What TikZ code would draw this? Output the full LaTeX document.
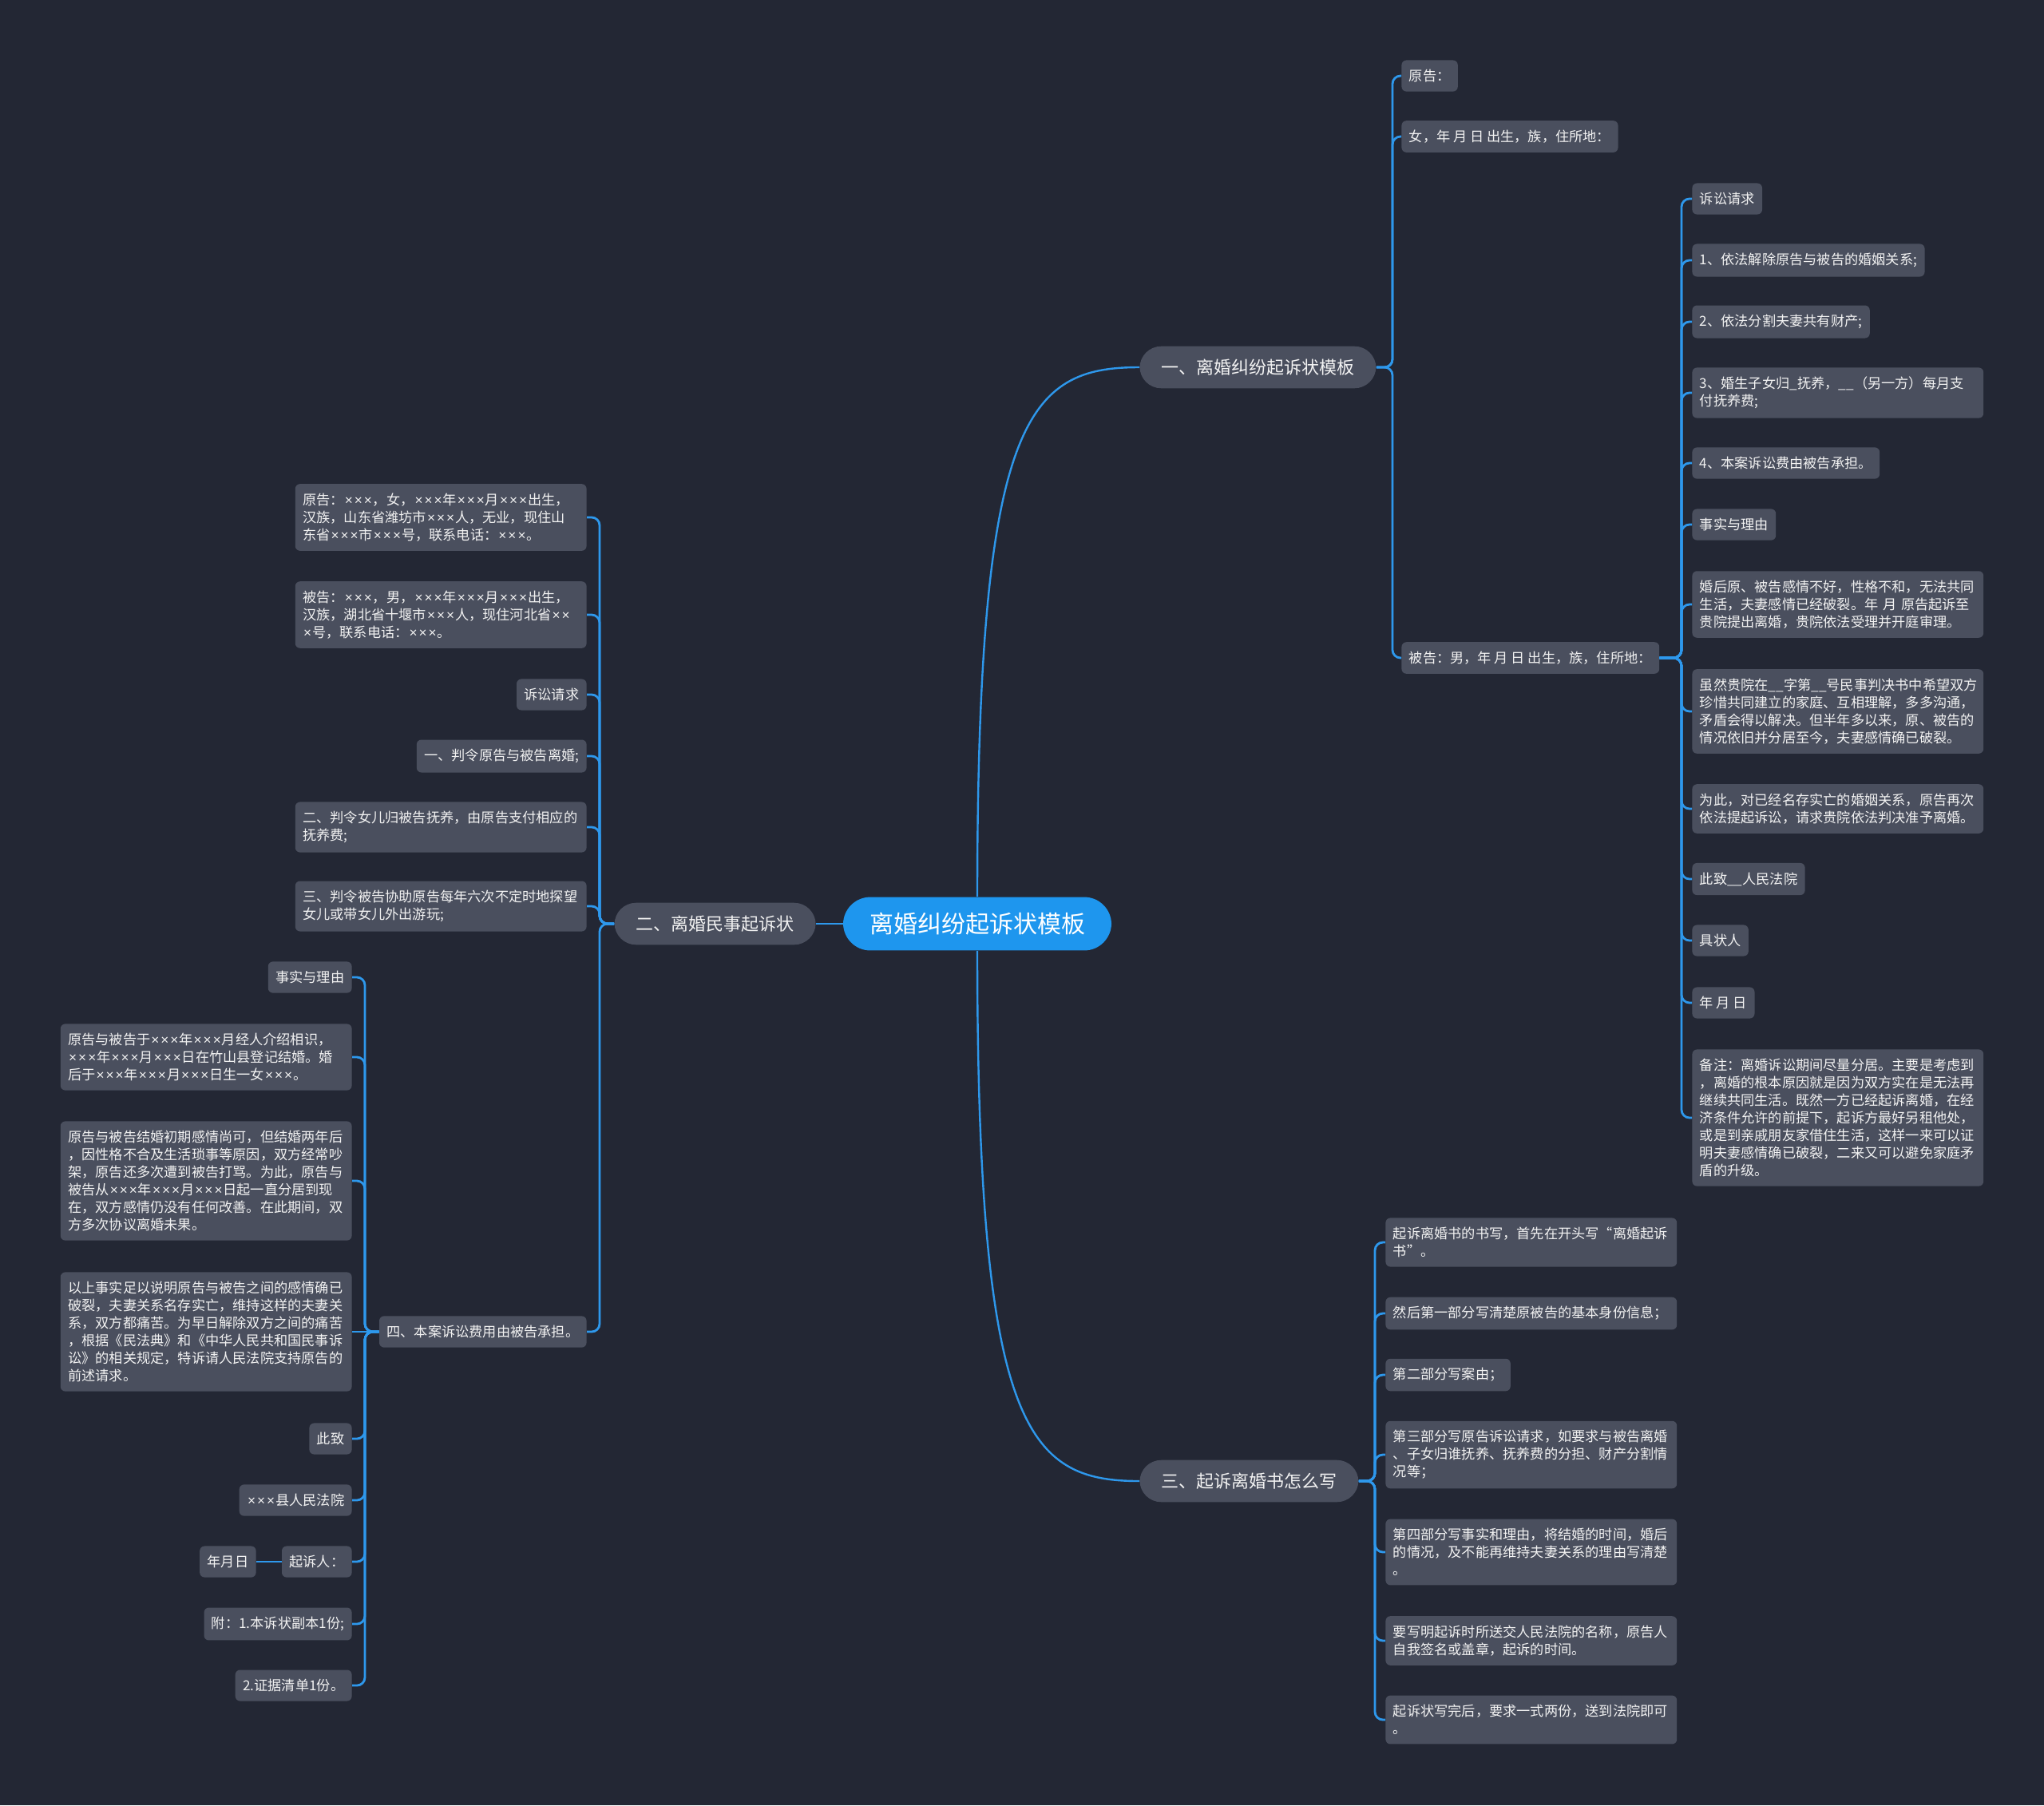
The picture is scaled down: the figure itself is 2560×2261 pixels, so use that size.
\documentclass[tikz,border=0pt]{standalone}
\usepackage{fontspec}
\setmainfont{Noto Sans CJK SC}
\newfontfamily\latinfont{Liberation Sans}
\usepackage{tikz}
\usetikzlibrary{arrows.meta}
\usepackage{xcolor}

\definecolor{bgcol}{HTML}{232734}
\definecolor{boxgray}{HTML}{4A4F5E}
\definecolor{linkblue}{HTML}{2E98EC}
\definecolor{rootblue}{HTML}{1E96EE}
\definecolor{txtcol}{HTML}{F2F2F2}

\newcommand{\leaffont}{\fontsize{8.6pt}{11pt}\selectfont}
\newcommand{\topicfont}{\fontsize{11pt}{13pt}\selectfont}
\newcommand{\rootfont}{\fontsize{15pt}{17pt}\selectfont}
\newcommand{\xx}{\makebox[0.7em]{\latinfont ×}}
\newcommand{\tri}{\xx\xx\xx}

\begin{document}
\begin{tikzpicture}[x = 0.5pt, y = -0.5pt,
    leaf/.style = {fill = boxgray, text = txtcol, rounded corners = 3pt, inner xsep = 4.7pt, inner ysep = 5.8pt, align = left, font = \leaffont},
    wide/.style = {leaf, text width = 173pt},
    topic/.style = {fill = boxgray, text = txtcol, rounded corners = 13.5pt, inner xsep = 13.5pt, inner ysep = 8pt, font = \topicfont},
    root/.style = {fill = rootblue, text = white, rounded corners = 17pt, inner xsep = 16.5pt, inner ysep = 9.7pt, font = \rootfont},
    link/.style = {draw = linkblue, line width = 1.4pt, rounded corners = 5pt},
    trunk/.style = {draw = linkblue, line width = 1.2pt}]

    \useasboundingbox (0,0) rectangle (2560,2261);
    \fill[bgcol] (0,0) rectangle (2560,2261);

    % centre and main topics
    \node[root] (root) at (1224,1157) {离婚纠纷起诉状模板};
    \node[topic, anchor = west] (n1) at (1427,460) {一、离婚纠纷起诉状模板};
    \node[topic, anchor = east] (n2) at (1022,1157) {二、离婚民事起诉状};
    \node[topic, anchor = west] (n3) at (1427,1855) {三、起诉离婚书怎么写};

    \draw[trunk] (root.north) .. controls +(0,-600) and +(-140,0) .. (n1.west);
    \draw[trunk] (root.south) .. controls +(0,600) and +(-140,0) .. (n3.west);
    \draw[trunk] (root.west) -- (n2.east);

    % spines
    \coordinate (sA) at (1744,0);
    \coordinate (sB) at (2106,0);
    \coordinate (sC) at (1722,0);
    \coordinate (sD) at (751,0);
    \coordinate (sE) at (457,0);

    % branch one
    \node[leaf, anchor = west] (a1) at (1755,95) {原告：};
    \node[leaf, anchor = west] (a2) at (1755,171) {女，年 月 日 出生，族，住所地：};
    \node[leaf, anchor = west] (a3) at (1755,824) {被告：男，年 月 日 出生，族，住所地：};

    \node[leaf, anchor = west] (b1) at (2119,249) {诉讼请求};
    \node[leaf, anchor = west] (b2) at (2119,326) {1、依法解除原告与被告的婚姻关系;};
    \node[leaf, anchor = west] (b3) at (2119,403) {2、依法分割夫妻共有财产;};
    \node[wide, anchor = west] (b4) at (2119,492) {3、婚生子女归\_抚养，\_\_（另一方）每月支\\付抚养费;};
    \node[leaf, anchor = west] (b5) at (2119,580) {4、本案诉讼费由被告承担。};
    \node[leaf, anchor = west] (b6) at (2119,657) {事实与理由};
    \node[wide, anchor = west] (b7) at (2119,757) {婚后原、被告感情不好，性格不和，无法共同\\生活，夫妻感情已经破裂。年 月 原告起诉至\\贵院提出离婚，贵院依法受理并开庭审理。};
    \node[wide, anchor = west] (b8) at (2119,891) {虽然贵院在\_\_字第\_\_号民事判决书中希望双方\\珍惜共同建立的家庭、互相理解，多多沟通，\\矛盾会得以解决。但半年多以来，原、被告的\\情况依旧并分居至今，夫妻感情确已破裂。};
    \node[wide, anchor = west] (b9) at (2119,1013) {为此，对已经名存实亡的婚姻关系，原告再次\\依法提起诉讼，请求贵院依法判决准予离婚。};
    \node[leaf, anchor = west] (b10) at (2119,1101) {此致\_\_人民法院};
    \node[leaf, anchor = west] (b11) at (2119,1178) {具状人};
    \node[leaf, anchor = west] (b12) at (2119,1256) {年 月 日};
    \node[wide, anchor = west] (b13) at (2119,1400) {备注：离婚诉讼期间尽量分居。主要是考虑到\\，离婚的根本原因就是因为双方实在是无法再\\继续共同生活。既然一方已经起诉离婚，在经\\济条件允许的前提下，起诉方最好另租他处，\\或是到亲戚朋友家借住生活，这样一来可以证\\明夫妻感情确已破裂，二来又可以避免家庭矛\\盾的升级。};

    \foreach \c in {a1,a2,a3}
        \draw[link] (n1.east) -- (n1.east -| sA) -- (\c.west -| sA) -- (\c.west);
    \foreach \i in {1,...,13}
        \draw[link] (a3.east) -- (a3.east -| sB) -- (b\i.west -| sB) -- (b\i.west);

    % branch three
    \node[wide, anchor = west] (c1) at (1735,1556) {起诉离婚书的书写，首先在开头写“离婚起诉\\书”。};
    \node[wide, anchor = west] (c2) at (1735,1645) {然后第一部分写清楚原被告的基本身份信息；};
    \node[leaf, anchor = west] (c3) at (1735,1722) {第二部分写案由；};
    \node[wide, anchor = west] (c4) at (1735,1822) {第三部分写原告诉讼请求，如要求与被告离婚\\、子女归谁抚养、抚养费的分担、财产分割情\\况等；};
    \node[wide, anchor = west] (c5) at (1735,1944) {第四部分写事实和理由，将结婚的时间，婚后\\的情况，及不能再维持夫妻关系的理由写清楚\\。};
    \node[wide, anchor = west] (c6) at (1735,2055) {要写明起诉时所送交人民法院的名称，原告人\\自我签名或盖章，起诉的时间。};
    \node[wide, anchor = west] (c7) at (1735,2154) {起诉状写完后，要求一式两份，送到法院即可\\。};

    \foreach \i in {1,...,7}
        \draw[link] (n3.east) -- (n3.east -| sC) -- (c\i.west -| sC) -- (c\i.west);

    % branch two
    \node[wide, anchor = east] (d1) at (735,648) {原告：\tri{}，女，\tri{}年\tri{}月\tri{}出生，\\汉族，山东省潍坊市\tri{}人，无业，现住山\\东省\tri{}市\tri{}号，联系电话：\tri{}。};
    \node[wide, anchor = east] (d2) at (735,770) {被告：\tri{}，男，\tri{}年\tri{}月\tri{}出生，\\汉族，湖北省十堰市\tri{}人，现住河北省\xx{}\xx{}\\\xx{}号，联系电话：\tri{}。};
    \node[leaf, anchor = east] (d3) at (735,870) {诉讼请求};
    \node[leaf, anchor = east] (d4) at (735,947) {一、判令原告与被告离婚;};
    \node[wide, anchor = east] (d5) at (735,1036) {二、判令女儿归被告抚养，由原告支付相应的\\抚养费;};
    \node[wide, anchor = east] (d6) at (735,1135) {三、判令被告协助原告每年六次不定时地探望\\女儿或带女儿外出游玩;};
    \node[leaf, anchor = east] (d7) at (735,1668) {四、本案诉讼费用由被告承担。};

    \foreach \i in {1,...,7}
        \draw[link] (n2.west) -- (n2.west -| sD) -- (d\i.east -| sD) -- (d\i.east);

    \node[leaf, anchor = east] (e1) at (441,1224) {事实与理由};
    \node[wide, anchor = east] (e2) at (441,1324) {原告与被告于\tri{}年\tri{}月经人介绍相识，\\\tri{}年\tri{}月\tri{}日在竹山县登记结婚。婚\\后于\tri{}年\tri{}月\tri{}日生一女\tri{}。};
    \node[wide, anchor = east] (e3) at (441,1479) {原告与被告结婚初期感情尚可，但结婚两年后\\，因性格不合及生活琐事等原因，双方经常吵\\架，原告还多次遭到被告打骂。为此，原告与\\被告从\tri{}年\tri{}月\tri{}日起一直分居到现\\在，双方感情仍没有任何改善。在此期间，双\\方多次协议离婚未果。};
    \node[wide, anchor = east] (e4) at (441,1668) {以上事实足以说明原告与被告之间的感情确已\\破裂，夫妻关系名存实亡，维持这样的夫妻关\\系，双方都痛苦。为早日解除双方之间的痛苦\\，根据《民法典》和《中华人民共和国民事诉\\讼》的相关规定，特诉请人民法院支持原告的\\前述请求。};
    \node[leaf, anchor = east] (e5) at (441,1802) {此致};
    \node[leaf, anchor = east] (e6) at (441,1879) {\tri{}县人民法院};
    \node[leaf, anchor = east] (e7) at (441,1956) {起诉人：};
    \node[leaf, anchor = east] (e8) at (441,2034) {附：1.本诉状副本1份;};
    \node[leaf, anchor = east] (e9) at (441,2111) {2.证据清单1份。};
    \node[leaf, anchor = east] (sdate) at (321,1956) {年月日};

    \foreach \c in {e1,e2,e3,e5,e6,e7,e8,e9}
        \draw[link] (d7.west) -- (d7.west -| sE) -- (\c.east -| sE) -- (\c.east);
    \draw[link] (d7.west) -- (e4.east);
    \draw[link] (e7.west) -- (sdate.east);

\end{tikzpicture}
\end{document}
